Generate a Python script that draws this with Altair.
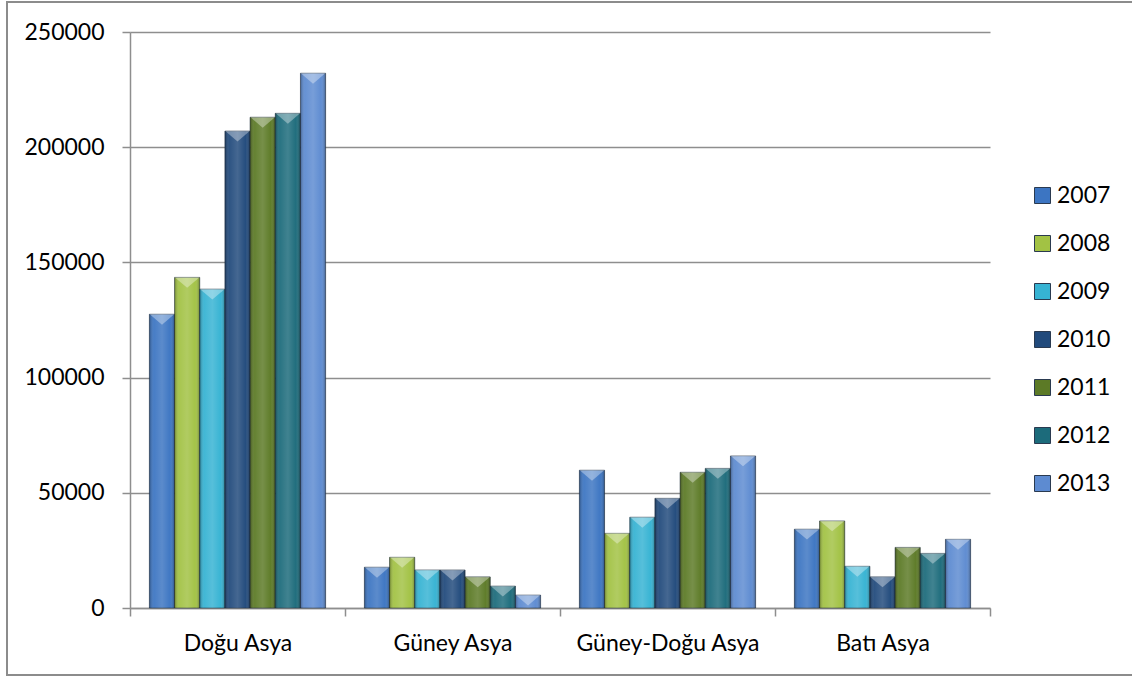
import altair as alt
import pandas as pd

regions = ["Doğu Asya", "Güney Asya", "Güney-Doğu Asya", "Batı Asya"]
years = ["2007", "2008", "2009", "2010", "2011", "2012", "2013"]

dogu_asya = [127500, 143500, 138400, 207000, 213000, 214700, 232100]
guney_asya = [17700, 22000, 16500, 16500, 13500, 9500, 5600]
guney_dogu_asya = [59800, 32400, 39400, 47600, 58900, 60600, 66000]
bati_asya = [34200, 37800, 18100, 13500, 26300, 23700, 29800]

series_colors = ["#3c75c2", "#a2c244", "#36b3d3", "#214a7c", "#5c7a26", "#1c6b7b", "#5d8bd1"]
y_ticks = [0, 50000, 100000, 150000, 200000, 250000]

rows = []
for region, vals in zip(regions, [dogu_asya, guney_asya, guney_dogu_asya, bati_asya]):
    for yr, v in zip(years, vals):
        rows.append({"region": region, "year": yr, "value": v})
df = pd.DataFrame(rows)

FONT = "Lato"
GRID = "#8e8e8e"

# category bands touch each other so the extent ticks fall on the boundaries;
# the gap around each cluster comes from the outer padding of the offset scale
x_enc = alt.X(
    "region:N",
    sort=regions,
    title=None,
    scale=alt.Scale(paddingInner=0, paddingOuter=0),
    axis=alt.Axis(
        labelAngle=0, tickBand="extent", tickSize=8, tickColor=GRID, tickWidth=1.5,
        domainColor=GRID, domainWidth=1.5, labelFont=FONT, labelFontSize=23,
        labelColor="#000000", labelPadding=16, labelLimit=0, grid=False,
    ),
)
xoff_enc = alt.XOffset(
    "year:N", sort=years,
    scale=alt.Scale(domain=years, paddingInner=0, paddingOuter=0.77),
)
y_enc = alt.Y(
    "value:Q",
    title=None,
    scale=alt.Scale(domain=[0, 250000], nice=False),
    axis=alt.Axis(
        values=y_ticks, format="d", tickSize=8, tickColor=GRID, tickWidth=1.5,
        domainColor=GRID, domainWidth=1.5, grid=True, gridColor=GRID, gridWidth=1.5,
        labelFont=FONT, labelFontSize=23, labelColor="#000000", labelPadding=18,
    ),
)

base = alt.Chart(df)

bars = base.mark_bar(stroke="#1d2b3d", strokeOpacity=0.55, strokeWidth=1).encode(
    x=x_enc,
    xOffset=xoff_enc,
    y=y_enc,
    color=alt.Color(
        "year:N",
        scale=alt.Scale(domain=years, range=series_colors),
        legend=alt.Legend(
            title=None, orient="none", legendX=901, legendY=152,
            symbolType="square", symbolSize=256, symbolStrokeColor="#2a3a50",
            symbolStrokeWidth=1, labelFont=FONT, labelFontSize=23,
            labelColor="#000000", labelOffset=3, rowPadding=24,
        ),
    ),
)

# side shading so each column reads as a rounded bevel
shade = alt.Gradient(
    gradient="linear", x1=0, x2=1, y1=0, y2=0,
    stops=[
        alt.GradientStop(color="rgba(0,0,0,0.30)", offset=0),
        alt.GradientStop(color="rgba(255,255,255,0.06)", offset=0.18),
        alt.GradientStop(color="rgba(255,255,255,0.16)", offset=0.5),
        alt.GradientStop(color="rgba(255,255,255,0.02)", offset=0.82),
        alt.GradientStop(color="rgba(0,0,0,0.32)", offset=1),
    ],
)
gloss = base.mark_bar(color=shade).encode(x=x_enc, xOffset=xoff_enc, y=y_enc)

# light wedge sitting on the top edge of each column
caps = base.mark_point(
    shape="M-1,0L1,0L0,0.85Z", size=600, filled=True, color="#ffffff",
    opacity=0.35, strokeWidth=0,
).encode(x=x_enc, xOffset=xoff_enc, y=y_enc)

frame = alt.Chart(pd.DataFrame({"k": [0]})).mark_rect(
    fill=None, stroke="#8c8c8c", strokeWidth=2
).encode(x=alt.value(-123), x2=alt.value(1030), y=alt.value(-30), y2=alt.value(643))

chart = alt.layer(frame, bars, gloss, caps).properties(
    width=860,
    height=576,
    padding={"left": 130, "top": 32, "right": 142, "bottom": 70},
    autosize=alt.AutoSizeParams(type="none"),
    background="#ffffff",
).configure_view(stroke=None)

chart.save("out.html", embed_options={"renderer": "svg", "actions": False})
